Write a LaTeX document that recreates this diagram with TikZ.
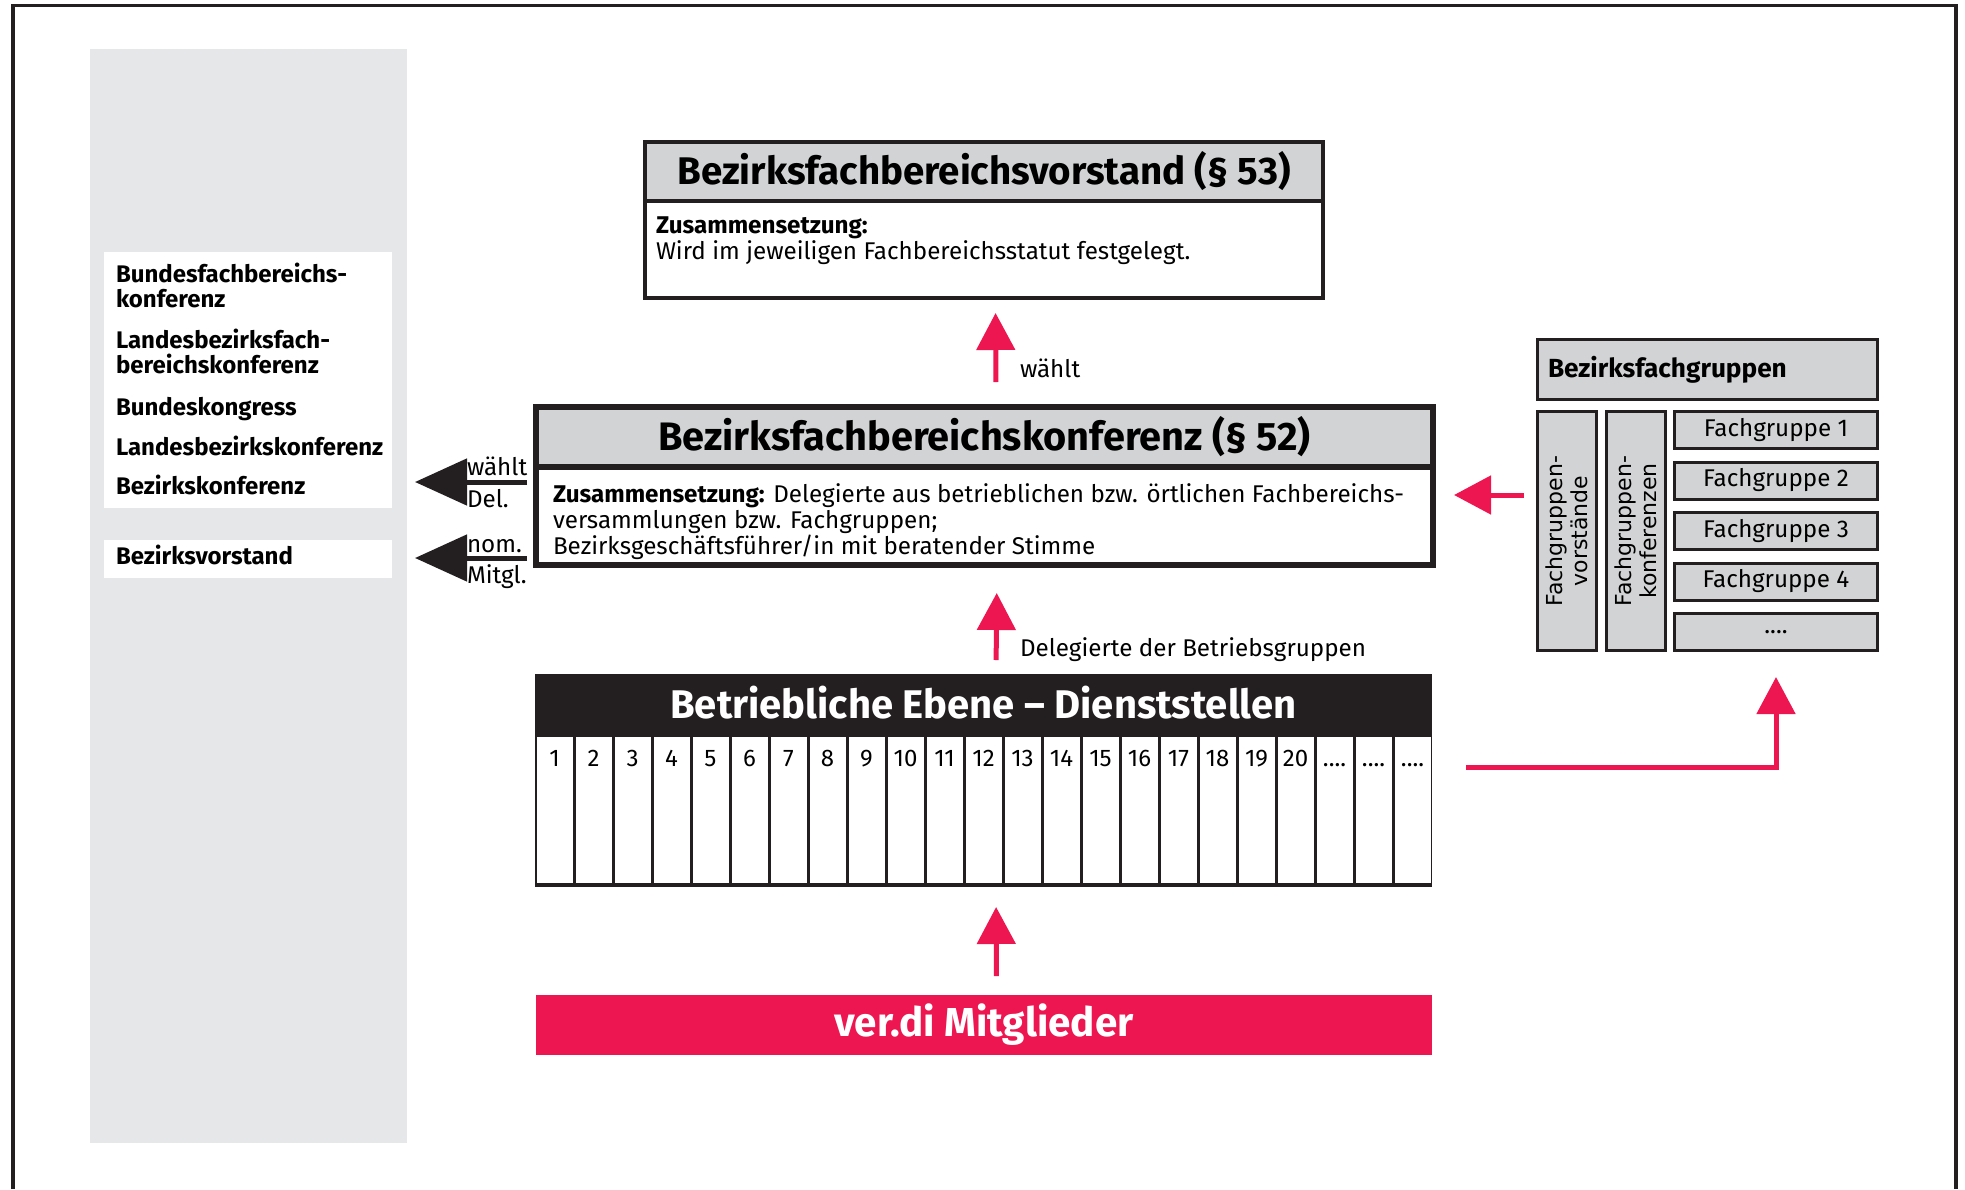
\documentclass[tikz,border=0pt]{standalone}
\usepackage{fontspec}
\setmainfont{Fira Sans}
\newfontfamily\verdanafont{DejaVu Sans}
\usetikzlibrary{arrows.meta}
\definecolor{ink}{RGB}{35,31,32}
\definecolor{boxgray}{RGB}{209,211,212}
\definecolor{panelgray}{RGB}{230,231,232}
\definecolor{verdired}{RGB}{237,22,81}
\newcommand\punkte{....}

\begin{document}
\begin{tikzpicture}[x=1pt,y=-1pt,
  every node/.style={inner sep=0pt,outer sep=0pt},
  frame/.style={draw=ink,anchor=north west},
  big/.style={font=\fontsize{#1}{44}\selectfont\bfseries},
  big/.default=38.5,
  small/.style={font=\fontsize{24.2}{26}\selectfont},
  redarrow/.style={draw=verdired,line width=5pt,-{Triangle[length=37pt,width=38pt]}},
  blackarrow/.style={draw=ink,line width=5pt,-{Triangle[length=52pt,width=46pt]}},
  fgbox/.style={frame,fill=boxgray,line width=3pt,minimum width=203,minimum height=37,small}]
\useasboundingbox (0,0) rectangle (1965,1189);
\draw[ink,line width=3.5pt] (13,1189) -- (13,5.5) -- (1956,5.5) -- (1956,1189);

% linke Spalte
\fill[panelgray] (90,49) rectangle (407,1143);
\node[fill=white,anchor=north west,minimum width=288,minimum height=256] (gremien) at (104,252) {};
\node[fill=white,anchor=north west,minimum width=288,minimum height=38] (bzv) at (104,540) {};
\foreach \y/\t in {282/Bundesfachbereichs-,307/konferenz,348/Landesbezirksfach-,373/bereichskonferenz,
                   415/Bundeskongress,455/Landesbezirkskonferenz,494/Bezirkskonferenz,564/Bezirksvorstand}
  \node[anchor=base west,font=\fontsize{24}{25}\selectfont\bfseries] (links\y) at (116,\y) {\t};

% Bezirksfachbereichsvorstand
\node[frame,fill=boxgray,line width=3.5pt,minimum width=678,minimum height=59,big] (vorstand) at (645,142) {Bezirksfachbereichsvorstand (§ 53)};
\node[frame,line width=3.5pt,minimum width=678,minimum height=97] (vorstandtext) at (645,201) {};
\node[small,anchor=base west] (vz1) at (656,233) {\textbf{Zusammensetzung:}};
\node[small,anchor=base west] (vz2) at (656,259) {Wird im jeweiligen Fachbereichsstatut festgelegt.};

% Bezirksfachbereichskonferenz
\node[frame,fill=boxgray,line width=6.5pt,minimum width=897,minimum height=60,big=39.7] (konferenz) at (536,407) {Bezirksfachbereichskonferenz (§ 52)};
\node[frame,line width=6.5pt,minimum width=897,minimum height=98] (konferenztext) at (536,467) {};
\node[small,anchor=base west] (kz1) at (553,502) {\textbf{Zusammensetzung:} Delegierte aus betrieblichen bzw. örtlichen Fachbereichs-};
\node[small,anchor=base west] (kz2) at (553,528) {versammlungen bzw. Fachgruppen;};
\node[small,anchor=base west] (kz3) at (553,554) {Bezirksgeschäftsführer/in mit beratender Stimme};

% Betriebliche Ebene
\node[fill=ink,anchor=north west,minimum width=897,minimum height=213] (betrieb) at (535,674) {};
\node[big=40,text=white,anchor=base] (betriebtitel) at (983.5,718) {Betriebliche Ebene – Dienststellen};
\foreach \i [evaluate=\i as \n using int(\i+1)] in {0,...,22} {
  \fill[white] (536.5+39*\i,737) rectangle (572.5+39*\i,883);
  \node[anchor=base,font=\fontsize{24}{24}\selectfont] (zelle\i) at (554.5+39*\i,766) {\ifnum\i<20 \n\else\punkte\fi};
}

% ver.di Mitglieder
\node[fill=verdired,text=white,anchor=north west,minimum width=896,minimum height=60,big=40.4] (mitglieder) at (536,995) {ver.di Mitglieder};

% Bezirksfachgruppen
\node[frame,fill=boxgray,line width=3pt,minimum width=340,minimum height=60] (bfg) at (1537.5,339.5) {};
\node[anchor=base west,font=\fontsize{26.2}{26}\selectfont\bfseries] (bfgtitel) at (1548,377) {Bezirksfachgruppen};
\node[frame,fill=boxgray,line width=3pt,minimum width=59,minimum height=239] (fgv) at (1537.5,411.5) {};
\node[frame,fill=boxgray,line width=3pt,minimum width=59,minimum height=239] (fgk) at (1606.5,411.5) {};
\node[rotate=90,align=center,font=\verdanafont\fontsize{22}{25.5}\selectfont] (fgvtext) at (fgv.center) {Fachgruppen-\\vorstände};
\node[rotate=90,align=center,font=\verdanafont\fontsize{22}{25.5}\selectfont] (fgktext) at (fgk.center) {Fachgruppen-\\konferenzen};
\foreach \i/\t in {0/Fachgruppe 1,1/Fachgruppe 2,2/Fachgruppe 3,3/Fachgruppe 4,4/\punkte}
  \node[fgbox] (fg\i) at (1674.5,411.5+50.5*\i) {\t};

% Pfeile
\draw[redarrow,shorten <=25pt,shorten >=15pt] ([xshift=11.5]konferenz.north) -- ([xshift=11.5]vorstandtext.south);
\node[small,anchor=base west] (waehlt) at (1020,377) {wählt};
\draw[redarrow,shorten <=14pt,shorten >=28pt] ([xshift=12.5]betrieb.north) -- ([xshift=12.5]konferenztext.south);
\node[small,anchor=base west] (delegierte) at (1020,656) {Delegierte der Betriebsgruppen};
\draw[redarrow,shorten <=19pt,shorten >=20pt] ([xshift=12.5]mitglieder.north) -- ([xshift=12.5]betrieb.south);
\coordinate (fgy) at (0,495);
\draw[redarrow,shorten <=14pt,shorten >=21pt] (fgv.west |- fgy) -- (konferenztext.east |- fgy);
\coordinate (abzweig) at (1466,767);
\draw[redarrow,shorten >=26.5pt] (abzweig) -| (fg4.south);

\coordinate (del) at (527,482);
\draw[blackarrow,shorten >=23pt] (del) -- (del -| gremien.east);
\node[small,anchor=base west] (waehltdel) at (467,475) {wählt};
\node[small,anchor=base west] (deltext) at (467,507) {Del.};
\coordinate (mitgl) at (527,558);
\draw[blackarrow,shorten >=23pt] (mitgl) -- (mitgl -| bzv.east);
\node[small,anchor=base west] (nom) at (467,552) {nom.};
\node[small,anchor=base west] (mitgltext) at (467,583) {Mitgl.};
\end{tikzpicture}
\end{document}
